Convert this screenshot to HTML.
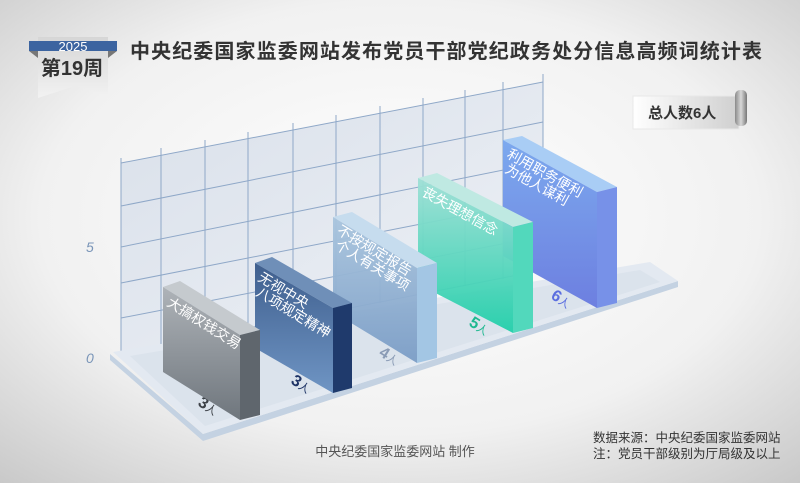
<!DOCTYPE html>
<html><head><meta charset="utf-8"><style>
html,body{margin:0;padding:0;}
body{width:800px;height:483px;overflow:hidden;font-family:"Liberation Sans","Noto Sans CJK SC",sans-serif;}
</style></head><body>
<svg width="800" height="483" viewBox="0 0 800 483" xmlns="http://www.w3.org/2000/svg" font-family="Liberation Sans, Noto Sans CJK SC, sans-serif">
<defs>
<radialGradient id="bg" cx="0.5" cy="0.45" r="0.75">
<stop offset="0" stop-color="#ffffff"/><stop offset="0.6" stop-color="#f1f1f1"/><stop offset="1" stop-color="#c8c8c8"/>
</radialGradient>
<linearGradient id="wall" x1="0" y1="0" x2="1" y2="1"><stop offset="0" stop-color="#d9e0ea"/><stop offset="1" stop-color="#eef1f6"/></linearGradient>
<linearGradient id="g1" x1="0" y1="0" x2="0" y2="1"><stop offset="0" stop-color="#aeb3b8"/><stop offset="1" stop-color="#6f767d"/></linearGradient>
<linearGradient id="g2" x1="0" y1="0" x2="0" y2="1"><stop offset="0" stop-color="#3f5f8e"/><stop offset="1" stop-color="#6f95c4"/></linearGradient>
<linearGradient id="g3" x1="0" y1="0" x2="0" y2="1"><stop offset="0" stop-color="#a9c5de"/><stop offset="1" stop-color="#7b9dc6"/></linearGradient>
<linearGradient id="g4" x1="0" y1="0" x2="0" y2="1"><stop offset="0" stop-color="#9fe0d6"/><stop offset="1" stop-color="#22cfaa"/></linearGradient>
<linearGradient id="g5" x1="0" y1="0" x2="0" y2="1"><stop offset="0" stop-color="#7ca9ee"/><stop offset="1" stop-color="#6d7fe0"/></linearGradient>
<linearGradient id="box" x1="0" y1="0" x2="1" y2="0"><stop offset="0" stop-color="#ffffff"/><stop offset="1" stop-color="#cfcfcf"/></linearGradient>
<linearGradient id="scroll" x1="0" y1="0" x2="1" y2="0"><stop offset="0" stop-color="#8a8a8a"/><stop offset="0.5" stop-color="#d8d8d8"/><stop offset="1" stop-color="#777"/></linearGradient>
<linearGradient id="pen" x1="0" y1="0" x2="0" y2="1"><stop offset="0" stop-color="#d6d6d6"/><stop offset="1" stop-color="#f2f2f2"/></linearGradient>
</defs>
<rect width="800" height="483" fill="url(#bg)"/>

<polygon points="38,37 108,37 108,95 75,86 38,98" fill="url(#pen)"/>
<polygon points="29,41 117,41 117,51 29,51" fill="#3c64a0"/>
<polygon points="29,51 38,51 38,58" fill="#777"/>
<polygon points="117,51 108,51 108,58" fill="#777"/>
<text x="73" y="51" font-size="13" fill="#fff" text-anchor="middle">2025</text>
<text x="72" y="75" font-size="20" font-weight="bold" fill="#333" text-anchor="middle">第19周</text>

<text x="130" y="58" font-size="20" font-weight="bold" fill="#333" textLength="632">中央纪委国家监委网站发布党员干部党纪政务处分信息高频词统计表</text>

<rect x="633" y="96" width="106" height="33" fill="url(#box)" stroke="#e8e8e8"/>
<rect x="735" y="90" width="12" height="36" rx="5" fill="url(#scroll)"/>
<text x="648" y="118" font-size="15" font-weight="bold" fill="#333">总人数6人</text>

<polygon points="121,163 543,82 543,270 121,353" fill="url(#wall)"/>
<g stroke="#8fa8c8" stroke-width="1" fill="none">
<line x1="121" y1="163" x2="543" y2="82"/>
<line x1="121" y1="206" x2="543" y2="122"/>
<line x1="121" y1="247" x2="543" y2="162"/>
<line x1="121" y1="283" x2="543" y2="200"/>
<line x1="121" y1="318" x2="543" y2="236"/>
<line x1="121" y1="353" x2="543" y2="270"/>
<line x1="121" y1="158" x2="121" y2="353"/>
<line x1="161" y1="148" x2="161" y2="345"/>
<line x1="205" y1="140" x2="205" y2="337"/>
<line x1="248" y1="132" x2="248" y2="328"/>
<line x1="293" y1="123" x2="293" y2="320"/>
<line x1="336" y1="115" x2="336" y2="311"/>
<line x1="380" y1="106" x2="380" y2="303"/>
<line x1="423" y1="98" x2="423" y2="294"/>
<line x1="465" y1="90" x2="465" y2="286"/>
<line x1="503" y1="82" x2="503" y2="279"/>
<line x1="543" y1="74" x2="543" y2="270"/>
</g>
<text x="86" y="252" font-size="14" fill="#7a95b8" font-style="italic">5</text>
<text x="86" y="363" font-size="14" fill="#7a95b8" font-style="italic">0</text>

<polygon points="110,354 203,434 678,281 678,287 203,441 110,360" fill="#c4d2e2"/>
<polygon points="113,352 650,262 678,281 203,434" fill="#e3e9f1"/>
<polygon points="130,356 640,270 660,282 205,426" fill="#d6dfea" opacity="0.6"/>

<g font-weight="bold" font-size="16">
<text transform="translate(197,405) rotate(32)" fill="#3d4248">3<tspan font-size="11" font-weight="normal">人</tspan></text>
<text transform="translate(290,383) rotate(32)" fill="#1f3466">3<tspan font-size="11" font-weight="normal">人</tspan></text>
<text transform="translate(378,355) rotate(32)" fill="#8a9bb5">4<tspan font-size="11" font-weight="normal">人</tspan></text>
<text transform="translate(468,325) rotate(32)" fill="#1fb890">5<tspan font-size="11" font-weight="normal">人</tspan></text>
<text transform="translate(550,298) rotate(32)" fill="#5b6ee0">6<tspan font-size="11" font-weight="normal">人</tspan></text>
</g>

<polygon points="503,140 522,136 617,187 597,192" fill="#a9cdf5"/>
<polygon points="597,192 617,187 617,303 597,308" fill="#7791e8"/>
<polygon points="503,140 597,192 597,308 503,256" fill="url(#g5)"/>
<text font-size="14" fill="#fff" transform="translate(506,157) rotate(29)">利用职务便利</text>
<text font-size="14" fill="#fff" transform="translate(504,172) rotate(29)">为他人谋利</text>

<polygon points="418,178 437,173 533,222 513,227" fill="#bfe9e2"/>
<polygon points="513,227 533,222 533,328 513,333" fill="#52d8bc"/>
<polygon points="418,178 513,227 513,333 418,284" fill="url(#g4)" opacity="0.95"/>
<text font-size="14" fill="#fff" transform="translate(421,195) rotate(29)">丧失理想信念</text>

<polygon points="333,217 352,212 437,263 417,268" fill="#c6dcee"/>
<polygon points="417,268 437,263 437,358 417,363" fill="#a3c6e4"/>
<polygon points="333,217 417,268 417,363 333,312" fill="url(#g3)" opacity="0.95"/>
<text font-size="14" fill="#fff" transform="translate(336,233) rotate(31)">不按规定报告</text>
<text font-size="14" fill="#fff" transform="translate(334,248) rotate(31)">个人有关事项</text>

<polygon points="255,263 272,257 352,303 333,308" fill="#6f8fb8"/>
<polygon points="333,308 352,303 352,388 333,393" fill="#1f3a6c"/>
<polygon points="255,263 333,308 333,393 255,348" fill="url(#g2)"/>
<text font-size="14" fill="#fff" transform="translate(257,280) rotate(31)">无视中央</text>
<text font-size="14" fill="#fff" transform="translate(255,295) rotate(31)">八项规定精神</text>

<polygon points="163,287 180,281 260,330 240,335" fill="#c5cace"/>
<polygon points="240,335 260,330 260,415 240,420" fill="#5f666d"/>
<polygon points="163,287 240,335 240,420 163,372" fill="url(#g1)"/>
<text font-size="14" fill="#fff" transform="translate(166,305) rotate(32)">大搞权钱交易</text>

<text x="395" y="456" font-size="13" fill="#555" text-anchor="middle">中央纪委国家监委网站 制作</text>
<text x="593" y="442" font-size="12.5" fill="#333">数据来源：中央纪委国家监委网站</text>
<text x="593" y="458" font-size="12.5" fill="#333">注：党员干部级别为厅局级及以上</text>
</svg>
</body></html>
